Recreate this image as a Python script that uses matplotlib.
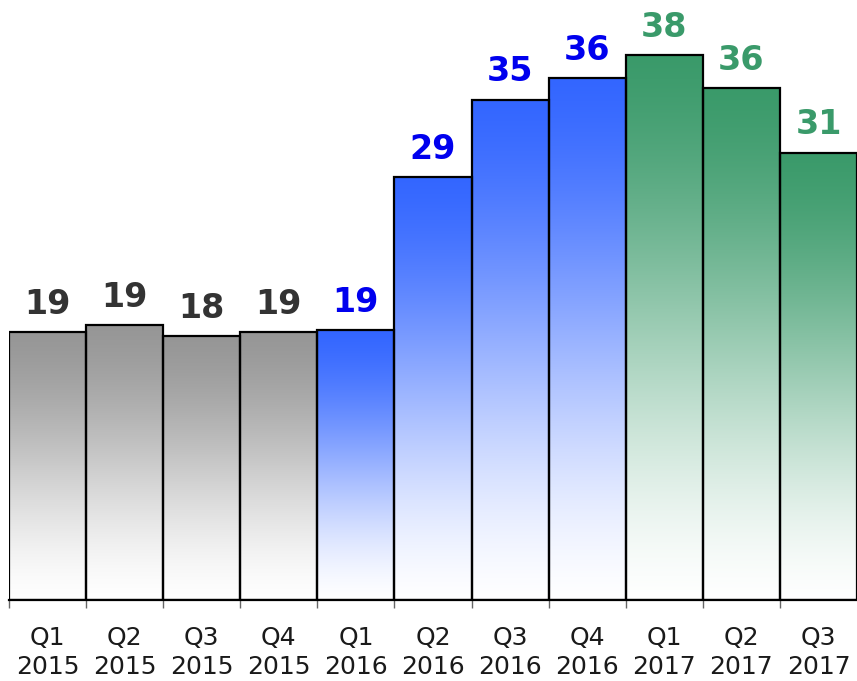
import numpy as np
import matplotlib
matplotlib.use("Agg")
import matplotlib.pyplot as plt
from matplotlib.colors import to_rgb

# data
quarters = ["Q1", "Q2", "Q3", "Q4", "Q1", "Q2", "Q3", "Q4", "Q1", "Q2", "Q3"]
years = ["2015", "2015", "2015", "2015", "2016", "2016", "2016", "2016", "2017", "2017", "2017"]
values = [18.7, 19.2, 18.4, 18.7, 18.8, 29.5, 34.9, 36.4, 38.0, 35.7, 31.2]
value_labels = ["19", "19", "18", "19", "19", "29", "35", "36", "38", "36", "31"]
groups = ["2015", "2015", "2015", "2015", "2016", "2016", "2016", "2016", "2017", "2017", "2017"]

bar_colors = {"2015": "#969696", "2016": "#3366FF", "2017": "#3A9A6A"}
text_colors = {"2015": "#333333", "2016": "#0000EE", "2017": "#3A9A6A"}

plt.rcParams['font.family'] = ['DejaVu Sans']

fig = plt.figure(figsize=(8.57, 6.81), dpi=100)
ax = fig.add_axes([9 / 857, 81 / 681, 848 / 857, 600 / 681])

x = np.arange(len(values))
bars = ax.bar(x, values, width=1.0, color="none", edgecolor="black", linewidth=1.6, zorder=3)

# vertical gradient inside each bar: full colour at the top, white at the bottom
t = np.linspace(0, 1, 256)[:, None]   # 0 = bottom, 1 = top
w = 0.6 * (3 * t ** 2 - 2 * t ** 3) + 0.4 * t
for bar, g in zip(bars, groups):
    c = np.array(to_rgb(bar_colors[g]))
    img = (1 - w)[:, :, None] * np.ones(3) + w[:, :, None] * c
    bx, by = bar.get_x(), bar.get_y()
    im = ax.imshow(img, extent=[bx, bx + bar.get_width(), by, by + bar.get_height()],
                   origin="lower", aspect="auto", zorder=2, interpolation="bilinear")
    im.set_clip_path(bar)

for xi, v, lab, g in zip(x, values, value_labels, groups):
    ax.annotate(lab, (xi, v), xytext=(0, 8), textcoords="offset points",
                ha="center", va="bottom", fontsize=24, fontweight="bold",
                color=text_colors[g])

ax.set_xlim(-0.5, len(values) - 0.5)
ax.set_ylim(0, 600 / 14.34)

for s in ["top", "right", "left"]:
    ax.spines[s].set_visible(False)
ax.spines["bottom"].set_linewidth(1.6)
ax.spines["bottom"].set_zorder(4)
ax.set_yticks([])

ax.set_xticks(x)
ax.set_xticklabels([f"{q}\n{y}" for q, y in zip(quarters, years)], fontsize=18,
                   color="#1a1a1a", linespacing=1.25)
ax.tick_params(axis="x", which="major", length=0, pad=19)
ax.set_xticks(np.arange(-0.5, len(values) - 0.5, 1.0), minor=True)
ax.tick_params(axis="x", which="minor", length=6, width=1, color="#666666")

fig.savefig("out.png", dpi=100)
